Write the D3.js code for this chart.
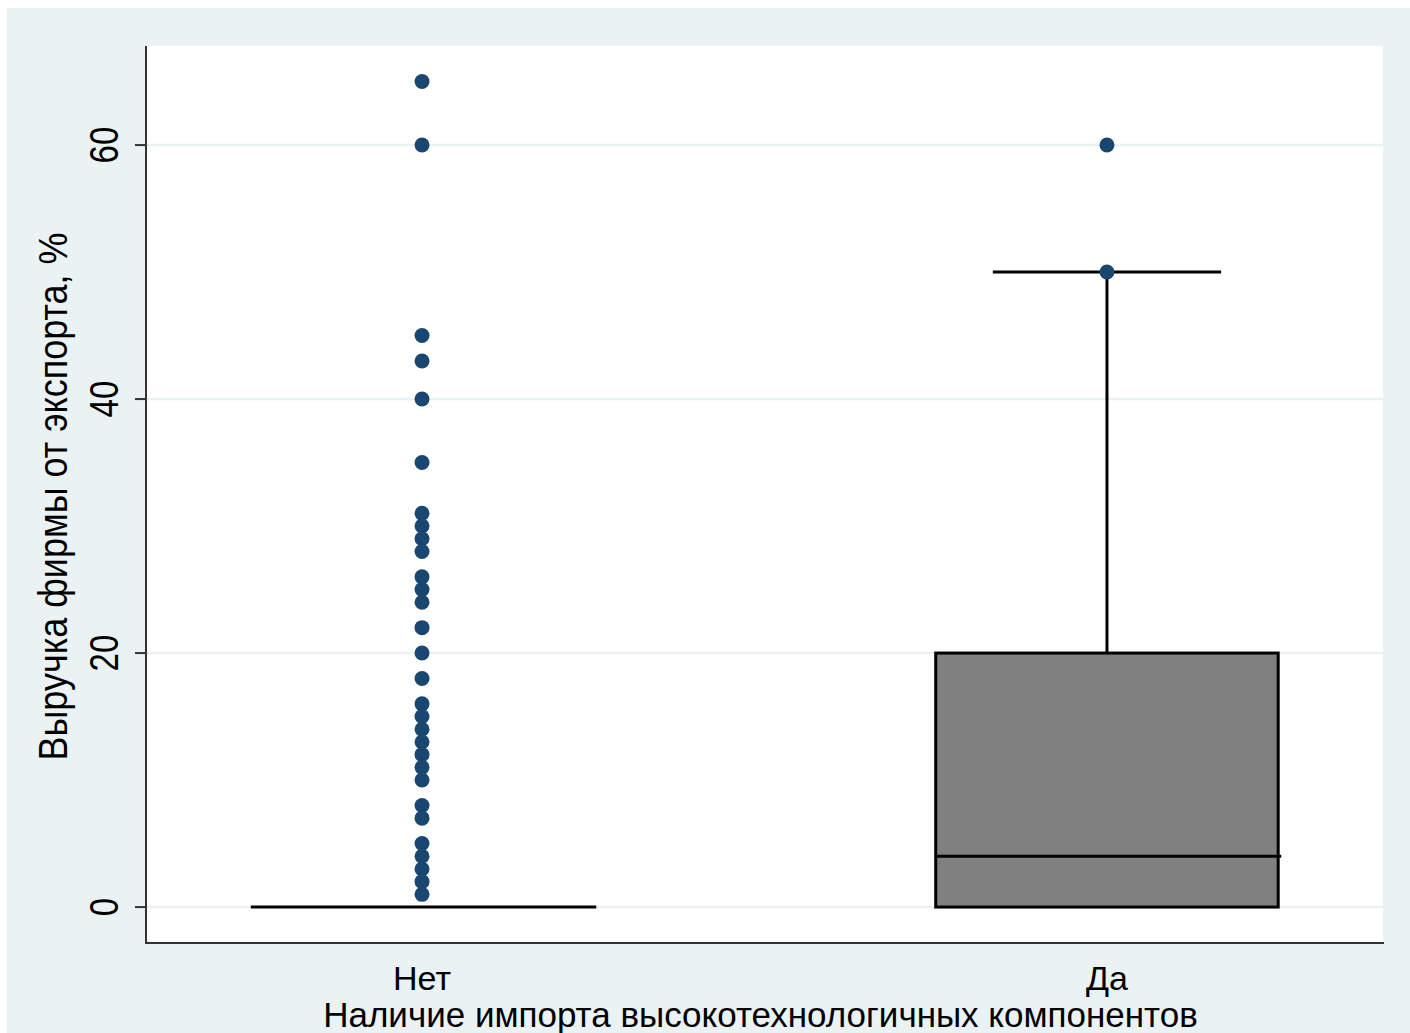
<!DOCTYPE html>
<html>
<head>
<meta charset="utf-8">
<script src="https://cdn.jsdelivr.net/npm/d3@7"></script>
<style>
	html,body{margin:0;padding:0;background:#fff;}
	#container{width:1410px;height:1033px;overflow:hidden;}
	text{font-family:"Liberation Sans",Arial,sans-serif;fill:#000;}
</style>
</head>
<body>
<div id="container"></div>
<script>
// categories on the x axis
var categories = ['Нет','Да'];

// box statistics per category
var q1 = [0,0],
	medians = [0,4],
	q3 = [0,20],
	whiskerLow = [0,0],
	whiskerHigh = [0,50];

// outside values per category
var outliersNo = [65,60,45,43,40,35,31,30,29,28,26,25,24,22,20,18,16,15,14,13,12,11,10,8,7,5,4,3,2,1];
var outliersYes = [60,50];

var yTicks = [0,20,40,60];

var yTitle = 'Выручка фирмы от экспорта, %';
var xTitle = 'Наличие импорта высокотехнологичных компонентов';

var init = function(){

	return {

		w:1410,
		h:1033,

		plot:{l:146,r:1383,t:46,b:943},

		colors:{
			'bg':'#eaf2f3',
			'grid':'#eaf2f3',
			'dot':'#1a476f',
			'box':'#808080'
		},

		generate:function(){
			var p = self.plot;

			self.svg = d3.select('#container').append('svg')
				.attr('width',self.w)
				.attr('height',self.h);

			//outer background
			self.svg.append('rect')
				.attr('x',7).attr('y',8)
				.attr('width',self.w -7).attr('height',self.h -8)
				.style('fill',self.colors.bg);

			//plot region
			self.svg.append('rect')
				.attr('x',p.l).attr('y',p.t)
				.attr('width',p.r -p.l).attr('height',p.b -p.t)
				.style('fill','#fff');

			var x = d3.scalePoint()
				.domain(categories)
				.range([p.l,p.r])
				.padding(0.403);
			var step = x.step();

			var y = d3.scaleLinear()
				.domain([-2.83,67.8])
				.range([p.b,p.t]);

			//gridlines
			self.svg.selectAll('line.grid')
				.data(yTicks)
				.enter().append('line')
				.classed('grid',true)
				.attr('x1',p.l).attr('x2',p.r)
				.attr('y1',function(d){ return y(d); })
				.attr('y2',function(d){ return y(d); })
				.style('stroke',self.colors.grid)
				.style('stroke-width',2.5);

			//boxes
			var rows = categories.map(function(c,i){
				return {cat:c,q1:q1[i],med:medians[i],q3:q3[i],lo:whiskerLow[i],hi:whiskerHigh[i]};
			});
			var boxW = step*0.5,
				capHalf = step/6;

			var boxG = self.svg.selectAll('g.box')
				.data(rows)
				.enter().append('g')
				.classed('box',true);

			//whisker stems + caps
			boxG.filter(function(d){ return d.hi > d.q3; }).append('line')
				.attr('x1',function(d){ return x(d.cat); })
				.attr('x2',function(d){ return x(d.cat); })
				.attr('y1',function(d){ return y(d.q3); })
				.attr('y2',function(d){ return y(d.hi); })
				.style('stroke','#000')
				.style('stroke-width',3);
			boxG.filter(function(d){ return d.hi > d.q3; }).append('line')
				.attr('x1',function(d){ return x(d.cat) -capHalf; })
				.attr('x2',function(d){ return x(d.cat) +capHalf; })
				.attr('y1',function(d){ return y(d.hi); })
				.attr('y2',function(d){ return y(d.hi); })
				.style('stroke','#000')
				.style('stroke-width',3);

			boxG.append('rect')
				.attr('x',function(d){ return x(d.cat) -boxW/2; })
				.attr('y',function(d){ return y(d.q3); })
				.attr('width',boxW)
				.attr('height',function(d){ return Math.max(0,y(d.q1) -y(d.q3)); })
				.style('fill',self.colors.box)
				.style('stroke','#000')
				.style('stroke-width',3);

			//median
			boxG.append('line')
				.attr('x1',function(d){ return x(d.cat) -boxW/2; })
				.attr('x2',function(d){ return x(d.cat) +boxW/2 +3; })
				.attr('y1',function(d){ return y(d.med); })
				.attr('y2',function(d){ return y(d.med); })
				.style('stroke','#000')
				.style('stroke-width',3);

			//outside values
			var pts = [];
			outliersNo.forEach(function(v){ pts.push({cat:categories[0],v:v}); });
			outliersYes.forEach(function(v){ pts.push({cat:categories[1],v:v}); });
			self.svg.selectAll('circle.out')
				.data(pts)
				.enter().append('circle')
				.classed('out',true)
				.attr('cx',function(d){ return x(d.cat); })
				.attr('cy',function(d){ return y(d.v); })
				.attr('r',7.5)
				.style('fill',self.colors.dot);

			//axes lines
			self.svg.append('line')
				.attr('x1',p.l).attr('x2',p.l)
				.attr('y1',p.t).attr('y2',p.b +1)
				.style('stroke','#333').style('stroke-width',2);
			self.svg.append('line')
				.attr('x1',p.l).attr('x2',p.r +1)
				.attr('y1',p.b).attr('y2',p.b)
				.style('stroke','#333').style('stroke-width',2);

			//y ticks (rotated labels, stretched like the original)
			var tickG = self.svg.selectAll('g.ytick')
				.data(yTicks)
				.enter().append('g')
				.classed('ytick',true);
			tickG.append('line')
				.attr('x1',p.l -11).attr('x2',p.l)
				.attr('y1',function(d){ return y(d); })
				.attr('y2',function(d){ return y(d); })
				.style('stroke','#333').style('stroke-width',2);
			tickG.append('text')
				.attr('transform',function(d){ return 'translate(118,' +y(d) +')rotate(-90)scale(1,1.25)'; })
				.attr('text-anchor','middle')
				.style('font-size','33px')
				.text(function(d){ return d; });

			//x labels
			self.svg.selectAll('text.xlab')
				.data(categories)
				.enter().append('text')
				.classed('xlab',true)
				.attr('x',function(d){ return x(d); })
				.attr('y',990)
				.attr('text-anchor','middle')
				.style('font-size','34px')
				.text(function(d){ return d; });

			//titles
			self.svg.append('text')
				.attr('transform','translate(67,' +((p.t +p.b)/2 +2) +')rotate(-90)scale(1,1.15)')
				.attr('text-anchor','middle')
				.style('font-size','36px')
				.text(yTitle);
			self.svg.append('text')
				.attr('x',(p.l +p.r)/2 -4)
				.attr('y',1027)
				.attr('text-anchor','middle')
				.style('font-size','35px')
				.text(xTitle);
		}
	}
}

var self = init();
self.generate();
</script>
</body>
</html>
